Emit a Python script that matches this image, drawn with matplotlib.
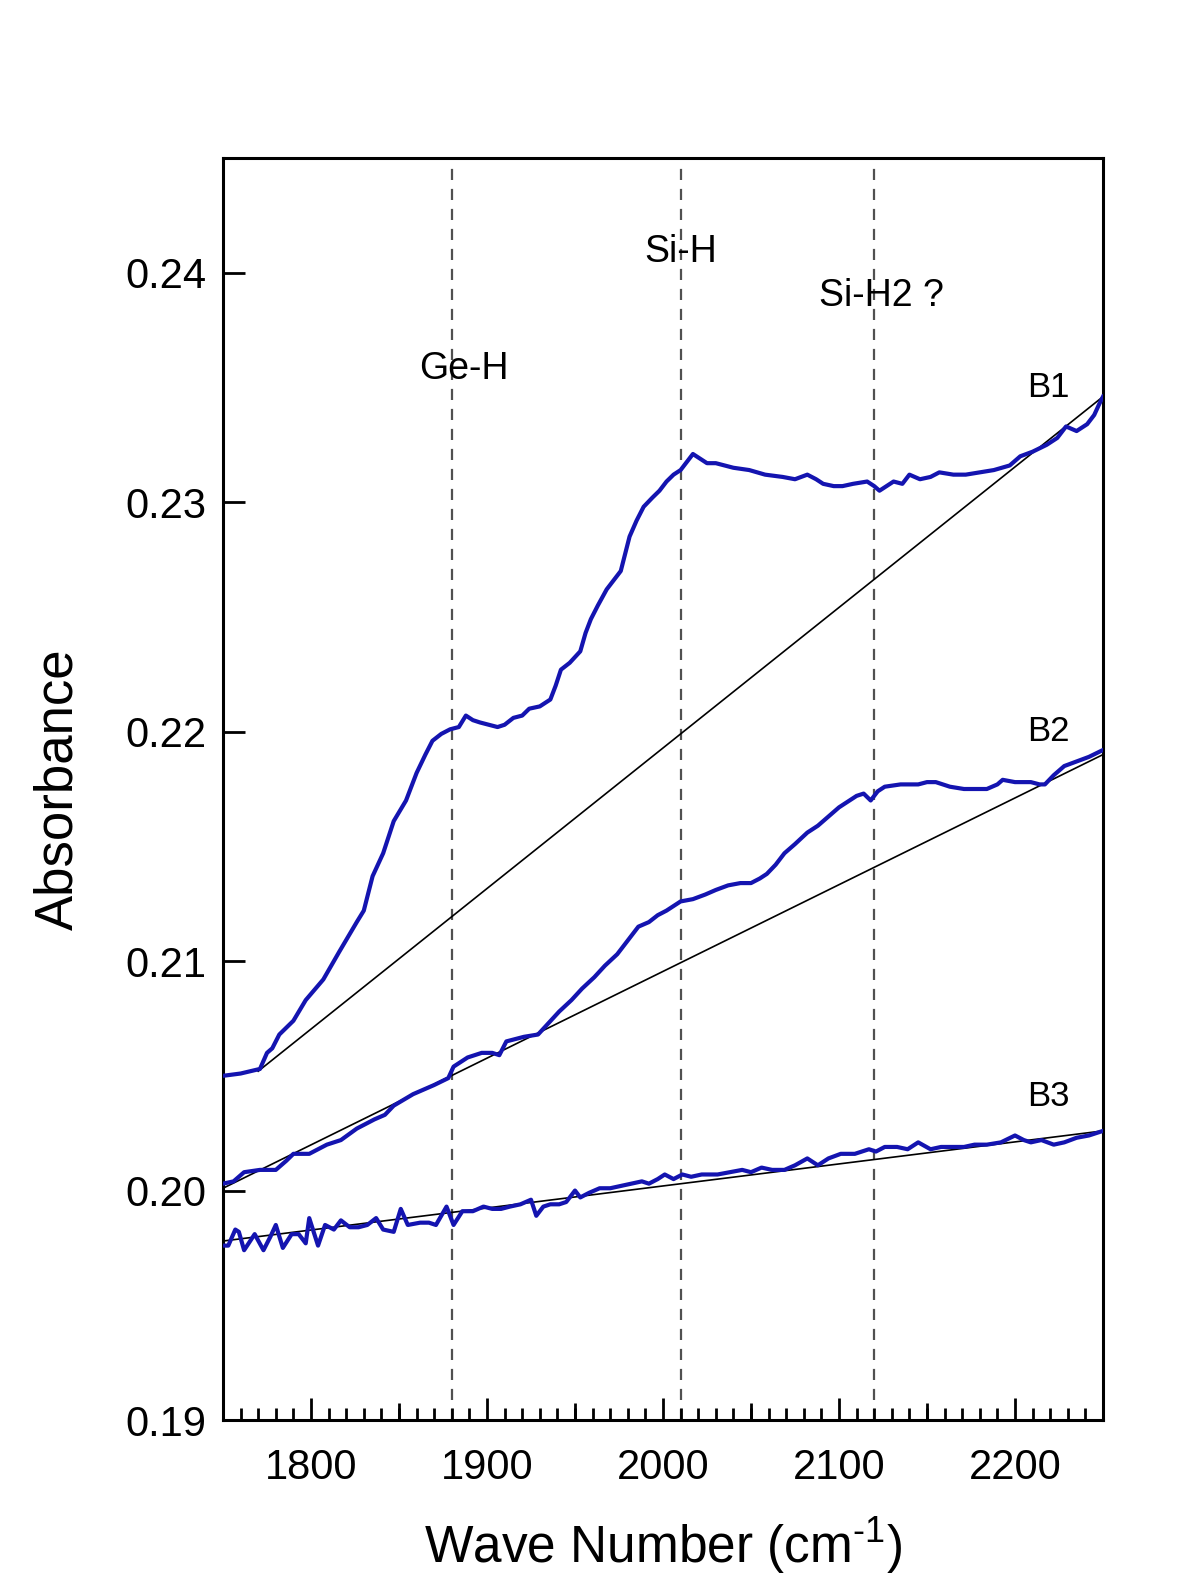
import matplotlib
matplotlib.use("Agg")
import matplotlib.pyplot as plt
from matplotlib.ticker import MultipleLocator, FixedLocator, NullFormatter

plt.rcParams['font.family'] = ['Liberation Sans', 'DejaVu Sans']
plt.rcParams['mathtext.fontset'] = 'custom'
plt.rcParams['mathtext.rm'] = 'Liberation Sans'
plt.rcParams['mathtext.it'] = 'Liberation Sans'

# ---- data ----
b1_x = [1750, 1760, 1771, 1775, 1778, 1782, 1790, 1797, 1807, 1816, 1826, 1830, 1835, 1841, 1847,
        1854, 1860, 1865, 1869, 1874, 1879, 1884, 1888, 1892, 1896, 1901, 1906, 1910, 1915, 1920,
        1924, 1930, 1936, 1939, 1942, 1947, 1953, 1956, 1959, 1963, 1968, 1972, 1976, 1981, 1985,
        1989, 1994, 1998, 2002, 2006, 2010, 2014, 2017, 2021, 2025, 2030, 2035, 2040, 2049, 2058,
        2068, 2075, 2082, 2087, 2091, 2097, 2102, 2108, 2116, 2120, 2123, 2127, 2131, 2136, 2140,
        2146, 2152, 2157, 2165, 2172, 2180, 2188, 2197, 2203, 2210, 2218, 2224, 2229, 2235, 2241,
        2245, 2248, 2250]
b1_y = [0.2050, 0.2051, 0.2053, 0.2060, 0.2062, 0.2068, 0.2074, 0.2083, 0.2092, 0.2104, 0.2117,
        0.2122, 0.2137, 0.2147, 0.2161, 0.2170, 0.2182, 0.2190, 0.2196, 0.2199, 0.2201, 0.2202,
        0.2207, 0.2205, 0.2204, 0.2203, 0.2202, 0.2203, 0.2206, 0.2207, 0.2210, 0.2211, 0.2214,
        0.2220, 0.2227, 0.2230, 0.2235, 0.2243, 0.2249, 0.2255, 0.2262, 0.2266, 0.2270, 0.2285,
        0.2292, 0.2298, 0.2302, 0.2305, 0.2309, 0.2312, 0.2314, 0.2318, 0.2321, 0.2319, 0.2317,
        0.2317, 0.2316, 0.2315, 0.2314, 0.2312, 0.2311, 0.2310, 0.2312, 0.2310, 0.2308, 0.2307,
        0.2307, 0.2308, 0.2309, 0.2307, 0.2305, 0.2307, 0.2309, 0.2308, 0.2312, 0.2310, 0.2311,
        0.2313, 0.2312, 0.2312, 0.2313, 0.2314, 0.2316, 0.2320, 0.2322, 0.2325, 0.2328, 0.2333,
        0.2331, 0.2334, 0.2338, 0.2343, 0.2346]

b2_x = [1750, 1756, 1762, 1771, 1780, 1786, 1790, 1799, 1809, 1817, 1826, 1836, 1842, 1847, 1858,
        1870, 1878, 1881, 1889, 1897, 1903, 1907, 1911, 1921, 1929, 1935, 1941, 1948, 1954, 1961,
        1967, 1974, 1980, 1986, 1992, 1997, 2002, 2010, 2017, 2024, 2030, 2037, 2044, 2050, 2055,
        2059, 2064, 2069, 2075, 2082, 2088, 2094, 2100, 2106, 2110, 2114, 2118, 2122, 2126, 2135,
        2145, 2150, 2155, 2163, 2171, 2178, 2184, 2190, 2193, 2200, 2209, 2214, 2217, 2222, 2228,
        2235, 2242, 2250]
b2_y = [0.2003, 0.2004, 0.2008, 0.2009, 0.2009, 0.2013, 0.2016, 0.2016, 0.2020, 0.2022, 0.2027,
        0.2031, 0.2033, 0.2037, 0.2042, 0.2046, 0.2049, 0.2054, 0.2058, 0.2060, 0.2060, 0.2059,
        0.2065, 0.2067, 0.2068, 0.2073, 0.2078, 0.2083, 0.2088, 0.2093, 0.2098, 0.2103, 0.2109,
        0.2115, 0.2117, 0.2120, 0.2122, 0.2126, 0.2127, 0.2129, 0.2131, 0.2133, 0.2134, 0.2134,
        0.2136, 0.2138, 0.2142, 0.2147, 0.2151, 0.2156, 0.2159, 0.2163, 0.2167, 0.2170, 0.2172,
        0.2173, 0.2170, 0.2174, 0.2176, 0.2177, 0.2177, 0.2178, 0.2178, 0.2176, 0.2175, 0.2175,
        0.2175, 0.2177, 0.2179, 0.2178, 0.2178, 0.2177, 0.2177, 0.2181, 0.2185, 0.2187, 0.2189,
        0.2192]

b3_x = [1750, 1753, 1757, 1759, 1762, 1768, 1773, 1777, 1780, 1784, 1789, 1793, 1797, 1799, 1804,
        1808, 1813, 1817, 1822, 1827, 1832, 1837, 1841, 1847, 1851, 1855, 1862, 1867, 1871, 1877,
        1881, 1886, 1892, 1898, 1903, 1908, 1913, 1919, 1925, 1928, 1932, 1936, 1941, 1945, 1950,
        1953, 1958, 1964, 1970, 1976, 1982, 1988, 1992, 1997, 2001, 2006, 2011, 2016, 2022, 2031,
        2038, 2045, 2050, 2056, 2062, 2069, 2075, 2082, 2088, 2094, 2101, 2109, 2117, 2121, 2126,
        2133, 2139, 2145, 2152, 2158, 2164, 2171, 2177, 2184, 2192, 2200, 2205, 2209, 2215, 2222,
        2228, 2235, 2242, 2250]
b3_y = [0.1976, 0.1976, 0.1983, 0.1982, 0.1974, 0.1981, 0.1974, 0.1980, 0.1985, 0.1975, 0.1981,
        0.1981, 0.1977, 0.1988, 0.1976, 0.1985, 0.1983, 0.1987, 0.1984, 0.1984, 0.1985, 0.1988,
        0.1983, 0.1982, 0.1992, 0.1985, 0.1986, 0.1986, 0.1985, 0.1993, 0.1985, 0.1991, 0.1991,
        0.1993, 0.1992, 0.1992, 0.1993, 0.1994, 0.1996, 0.1989, 0.1993, 0.1994, 0.1994, 0.1995,
        0.2000, 0.1997, 0.1999, 0.2001, 0.2001, 0.2002, 0.2003, 0.2004, 0.2003, 0.2005, 0.2007,
        0.2005, 0.2007, 0.2006, 0.2007, 0.2007, 0.2008, 0.2009, 0.2008, 0.2010, 0.2009, 0.2009,
        0.2011, 0.2014, 0.2011, 0.2014, 0.2016, 0.2016, 0.2018, 0.2017, 0.2019, 0.2019, 0.2018,
        0.2021, 0.2018, 0.2019, 0.2019, 0.2019, 0.2020, 0.2020, 0.2021, 0.2024, 0.2022, 0.2021,
        0.2022, 0.2020, 0.2021, 0.2023, 0.2024, 0.2026]

# straight baselines (endpoints)
base1_x = [1770, 2250]
base1_y = [0.2052, 0.2346]
base2_x = [1750, 2250]
base2_y = [0.2001, 0.2190]
base3_x = [1750, 2250]
base3_y = [0.1978, 0.2026]

peak_positions = [1880, 2010, 2120]
peak_labels = ["Ge-H", "Si-H", "Si-H2 ?"]
peak_label_x = [1887, 2010, 2124]
peak_label_y = [0.2358, 0.2409, 0.2390]

series_labels = ["B1", "B2", "B3"]
series_label_x = [2219, 2219, 2219]
series_label_y = [0.2350, 0.2200, 0.2041]

xticks = [1800, 1900, 2000, 2100, 2200]
xticks_mid = [1750, 1850, 1950, 2050, 2150, 2250]
yticks = [0.19, 0.20, 0.21, 0.22, 0.23, 0.24]

# ---- figure ----
fig = plt.figure(figsize=(12, 15.96), dpi=100)
ax = fig.add_axes([223/1200, 1 - 1420/1596, 880/1200, 1262/1596])

blue = '#1414b0'
ax.plot(base1_x, base1_y, color='black', lw=1.2, zorder=2)
ax.plot(base2_x, base2_y, color='black', lw=1.2, zorder=2)
ax.plot(base3_x, base3_y, color='black', lw=1.2, zorder=2)
ax.plot(b1_x, b1_y, color=blue, lw=3.0, zorder=3)
ax.plot(b2_x, b2_y, color=blue, lw=3.0, zorder=3)
ax.plot(b3_x, b3_y, color=blue, lw=3.0, zorder=3)

for xp in peak_positions:
    ax.axvline(xp, color='#505050', lw=1.6, ls=(0, (5, 4)), zorder=1)

for t, x, y in zip(peak_labels, peak_label_x, peak_label_y):
    ax.text(x, y, t, ha='center', va='center', fontsize=27)
for t, x, y in zip(series_labels, series_label_x, series_label_y):
    ax.text(x, y, t, ha='center', va='center', fontsize=25)

ax.set_xlim(1750, 2250)
ax.set_ylim(0.19, 0.245)

ax.xaxis.set_major_locator(FixedLocator(xticks))
ax.xaxis.set_minor_locator(MultipleLocator(10))
ax.yaxis.set_major_locator(FixedLocator(yticks))
ax.set_yticklabels([f"{v:.2f}" for v in yticks])

ax.tick_params(axis='x', which='major', direction='in', length=16, width=2,
               labelsize=30, pad=20, top=False)
ax.tick_params(axis='x', which='minor', direction='in', length=8.5, width=2, top=False)
ax.tick_params(axis='y', which='major', direction='in', length=16, width=2,
               labelsize=30, pad=12, right=False)

# medium ticks every 50 on an overlaid twin x axis
tw = ax.twiny()
tw.set_xlim(ax.get_xlim())
tw.xaxis.set_ticks_position('bottom')
tw.xaxis.set_major_locator(FixedLocator(xticks_mid))
tw.xaxis.set_major_formatter(NullFormatter())
tw.tick_params(axis='x', which='major', direction='in', length=12, width=2,
               bottom=True, top=False, labelbottom=False, labeltop=False)
for s in tw.spines.values():
    s.set_visible(False)

for s in ax.spines.values():
    s.set_linewidth(2.2)

ax.set_xlabel("Wave Number (cm$^{\\text{-1}}$)", fontsize=37, labelpad=20)
ax.set_ylabel("Absorbance", fontsize=38, labelpad=30)

fig.savefig("out.png", dpi=100)
